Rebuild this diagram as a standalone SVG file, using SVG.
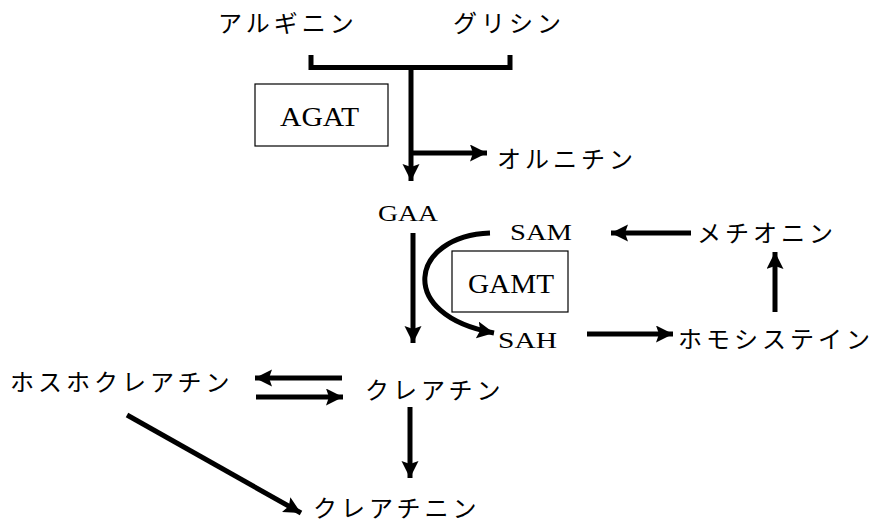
<svg xmlns="http://www.w3.org/2000/svg" width="882" height="522" viewBox="0 0 882 522">
<style>
.jp{font-family:"Liberation Serif","Noto Sans CJK JP",serif;font-size:24px;letter-spacing:4px;fill:#000}
.en{font-family:"Liberation Serif",serif;font-size:23px;fill:#000}
.enb{font-family:"Liberation Serif",serif;font-size:28px;fill:#000}
.box{fill:#fff;stroke:#000;stroke-width:1.2}
.ln{fill:none;stroke:#000;stroke-width:5}
</style>
<defs>
<marker id="ah" markerUnits="userSpaceOnUse" markerWidth="18" markerHeight="18" refX="17" refY="8.5" orient="auto">
<path d="M0,0 L17,8.5 L0,17 L3,8.5 Z" fill="#000"/>
</marker>
</defs>
<rect width="882" height="522" fill="#fff"/>
<g id="arginine"><text class="jp" x="218" y="32">アルギニン</text></g>
<g id="glycine"><text class="jp" x="453" y="32">グリシン</text></g>
<g id="agat"><rect class="box" x="255" y="84" width="133" height="62"/><text class="enb" x="280" y="126" textLength="79" lengthAdjust="spacingAndGlyphs">AGAT</text></g>
<g id="ornithine"><text class="jp" x="497" y="168">オルニチン</text></g>
<g id="gaa"><text class="en" x="378" y="221" textLength="60" lengthAdjust="spacingAndGlyphs">GAA</text></g>
<g id="sam"><text class="en" x="510" y="240" textLength="62" lengthAdjust="spacingAndGlyphs">SAM</text></g>
<g id="methionine"><text class="jp" x="697" y="242">メチオニン</text></g>
<g id="gamt"><rect class="box" x="452" y="251" width="116" height="61"/><text class="enb" x="468" y="293" textLength="86" lengthAdjust="spacingAndGlyphs">GAMT</text></g>
<g id="sah"><text class="en" x="498" y="348" textLength="59" lengthAdjust="spacingAndGlyphs">SAH</text></g>
<g id="homocysteine"><text class="jp" x="678" y="348">ホモシステイン</text></g>
<g id="phosphocreatine"><text class="jp" x="10" y="391">ホスホクレアチン</text></g>
<g id="creatine"><text class="jp" x="365" y="399">クレアチン</text></g>
<g id="creatinine"><text class="jp" x="313" y="517">クレアチニン</text></g>
<g id="connectors">
<path class="ln" d="M311,55 V67.5 H510 V55"/>
<path class="ln" d="M411,67.5 V181" marker-end="url(#ah)"/>
<path class="ln" d="M411,153 H487" marker-end="url(#ah)"/>
<path class="ln" d="M413,233 V343" marker-end="url(#ah)"/>
<path class="ln" d="M490,233 C410,236 395,315 494,333" marker-end="url(#ah)"/>
<path class="ln" d="M691,233 H611" marker-end="url(#ah)"/>
<path class="ln" d="M775,312 V252" marker-end="url(#ah)"/>
<path class="ln" d="M587,334 H673" marker-end="url(#ah)"/>
<path class="ln" d="M342,378 H255" marker-end="url(#ah)"/>
<path class="ln" d="M256,397 H343" marker-end="url(#ah)"/>
<path class="ln" d="M410,407 V478" marker-end="url(#ah)"/>
<path class="ln" d="M127,415 L301,513" marker-end="url(#ah)"/>
</g>
</svg>
